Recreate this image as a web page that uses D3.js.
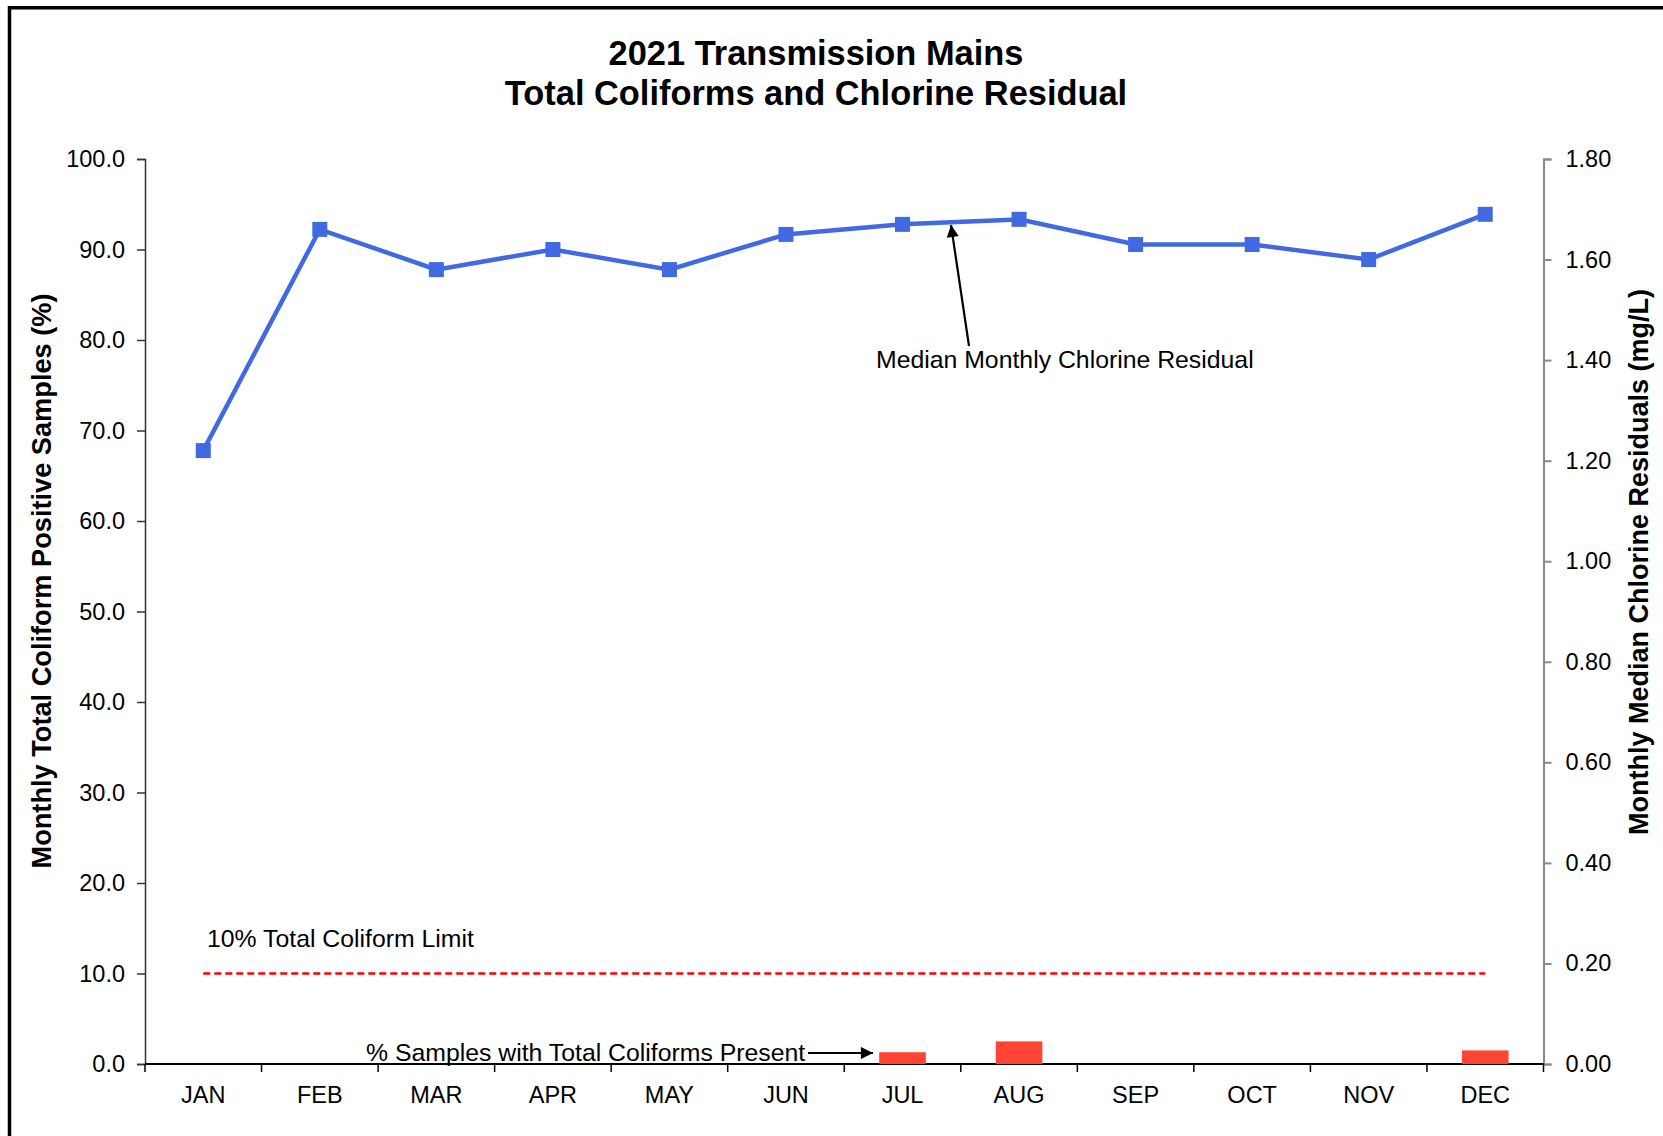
<!DOCTYPE html>
<html lang="en">
<head>
<meta charset="utf-8">
<script src="https://d3js.org/d3.v7.min.js"></script>
<style>
  body { margin: 0; background: #fff; }
  text { font-family: "Liberation Sans", Arial, sans-serif; fill: #000; }
</style>
</head>
<body>
<div class="display1"></div>
<script>
// chart values
var months = ['JAN','FEB','MAR','APR','MAY','JUN','JUL','AUG','SEP','OCT','NOV','DEC'];
var chlorine = [1.22, 1.66, 1.58, 1.62, 1.58, 1.65, 1.67, 1.68, 1.63, 1.63, 1.60, 1.69]; // mg/L
var coliformPct = [0, 0, 0, 0, 0, 0, 1.3, 2.5, 0, 0, 0, 1.5]; // % positive
var limitPct = 10;
var leftTicks = d3.range(0, 100.1, 10);
var rightTicks = d3.range(0, 1.81, 0.2);

var width = 1663, height = 1136;
var svg = d3.select('.display1').append('svg').attr('width', width).attr('height', height);

// frame (only top and left edges visible)
svg.append('path').attr('d', 'M9.5,' + height + 'V7.75H' + width)
  .attr('fill', 'none').attr('stroke', '#000').attr('stroke-width', 3.5);

var plotL = 145, plotR = 1543.5, plotT = 159, plotB = 1064;

var x = d3.scaleBand().domain(months).range([plotL, plotR]).padding(0);
var yL = d3.scaleLinear().domain([0, 100]).range([plotB, plotT]);
var yR = d3.scaleLinear().domain([0, 1.8]).range([plotB, plotT]);
var cx = function(m) { return x(m) + x.bandwidth() / 2; };

// title
var title = svg.append('text').attr('text-anchor', 'middle')
  .style('font-size', '34.4px').style('font-weight', 'bold');
title.append('tspan').attr('x', 816).attr('y', 65).text('2021 Transmission Mains');
title.append('tspan').attr('x', 816).attr('y', 105).text('Total Coliforms and Chlorine Residual');

// left axis
var gL = svg.append('g').attr('transform', 'translate(' + plotL + ',0)')
  .call(d3.axisLeft(yL).tickValues(leftTicks).tickFormat(d3.format('.1f')).tickSize(8).tickPadding(12).tickSizeOuter(8));
gL.selectAll('path, line').attr('stroke', '#333').attr('stroke-width', 1.5);
gL.selectAll('text').style('font-size', '23.5px').attr('fill', '#000');

// right axis
var gR = svg.append('g').attr('transform', 'translate(' + plotR + ',0)')
  .call(d3.axisRight(yR).tickValues(rightTicks).tickFormat(d3.format('.2f')).tickSize(8).tickPadding(14).tickSizeOuter(8));
gR.selectAll('path, line').attr('stroke', '#888').attr('stroke-width', 2);
gR.selectAll('text').style('font-size', '23.5px').attr('fill', '#000');

// x axis: labels centred, ticks on month boundaries
var gX = svg.append('g').attr('transform', 'translate(0,' + plotB + ')')
  .call(d3.axisBottom(x).tickSize(0).tickPadding(22));
gX.select('.domain').remove();
gX.selectAll('text').style('font-size', '23.5px').attr('fill', '#000');
svg.append('line').attr('x1', plotL).attr('x2', plotR).attr('y1', plotB).attr('y2', plotB)
  .attr('stroke', '#000').attr('stroke-width', 2);
svg.selectAll('.xtick').data(months.concat(['end'])).join('line').attr('class', 'xtick')
  .attr('x1', function(d) { return d === 'end' ? plotR : x(d); })
  .attr('x2', function(d) { return d === 'end' ? plotR : x(d); })
  .attr('y1', plotB).attr('y2', plotB + 8)
  .attr('stroke', '#000').attr('stroke-width', 1.5);

// axis titles
svg.append('text').attr('transform', 'translate(41,581) rotate(-90)')
  .attr('text-anchor', 'middle').attr('dominant-baseline', 'central')
  .style('font-size', '27.2px').style('font-weight', 'bold')
  .text('Monthly Total Coliform Positive Samples (%)');
svg.append('text').attr('transform', 'translate(1639,562) rotate(-90)')
  .attr('text-anchor', 'middle').attr('dominant-baseline', 'central')
  .style('font-size', '27px').style('font-weight', 'bold')
  .text('Monthly Median Chlorine Residuals (mg/L)');

// coliform bars
var barW = x.bandwidth() * 0.4;
svg.selectAll('.bar').data(months).join('rect').attr('class', 'bar')
  .attr('x', function(d) { return cx(d) - barW / 2; })
  .attr('y', function(d, i) { return yL(coliformPct[i]); })
  .attr('width', barW)
  .attr('height', function(d, i) { return plotB - yL(coliformPct[i]); })
  .attr('fill', '#ff4433');

// 10% limit
svg.append('line')
  .attr('x1', cx(months[0])).attr('x2', cx(months[months.length - 1]))
  .attr('y1', yL(limitPct)).attr('y2', yL(limitPct))
  .attr('stroke', '#ff0000').attr('stroke-width', 2.5).attr('stroke-dasharray', '7,4');

// chlorine line
var line = d3.line().x(function(d, i) { return cx(months[i]); }).y(function(d) { return yR(d); });
svg.append('path').datum(chlorine).attr('d', line)
  .attr('fill', 'none').attr('stroke', '#4169e1').attr('stroke-width', 4.5);
svg.selectAll('.mk').data(chlorine).join('rect').attr('class', 'mk')
  .attr('x', function(d, i) { return cx(months[i]) - 7.5; })
  .attr('y', function(d) { return yR(d) - 7.5; })
  .attr('width', 15).attr('height', 15).attr('fill', '#4169e1');

// annotations
var defs = svg.append('defs');
defs.append('marker').attr('id', 'arr').attr('viewBox', '0 0 10 10')
  .attr('refX', 10).attr('refY', 5).attr('markerWidth', 7).attr('markerHeight', 5.5)
  .attr('markerUnits', 'strokeWidth').attr('orient', 'auto')
  .append('path').attr('d', 'M0,0L10,5L0,10z').attr('fill', '#000');

svg.append('text').attr('x', 876).attr('y', 368).style('font-size', '24.8px')
  .text('Median Monthly Chlorine Residual');
svg.append('line').attr('x1', 969).attr('y1', 346).attr('x2', 951).attr('y2', 225)
  .attr('stroke', '#000').attr('stroke-width', 2.2).attr('marker-end', 'url(#arr)');

svg.append('text').attr('x', 207).attr('y', 947).style('font-size', '24.8px')
  .text('10% Total Coliform Limit');

svg.append('text').attr('x', 366).attr('y', 1061).style('font-size', '24.8px')
  .text('% Samples with Total Coliforms Present');
svg.append('line').attr('x1', 808).attr('y1', 1053).attr('x2', 873).attr('y2', 1053)
  .attr('stroke', '#000').attr('stroke-width', 2.2).attr('marker-end', 'url(#arr)');
</script>
</body>
</html>
